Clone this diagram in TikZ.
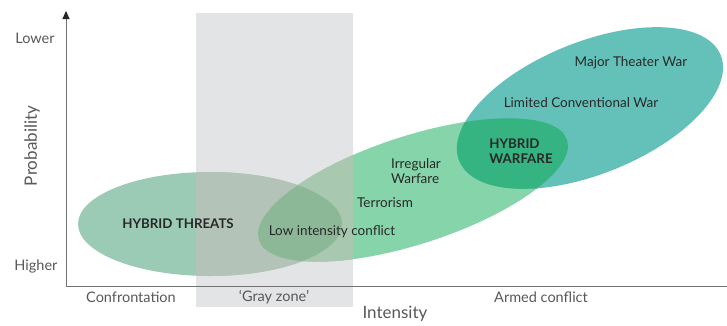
\documentclass[tikz,border=0pt]{standalone}
\usepackage{fontspec}
\setmainfont{Lato}
\usetikzlibrary{arrows.meta}

\definecolor{zonagris}{RGB}{227,228,230}
\definecolor{amenaza}{RGB}{156,203,181}
\definecolor{amenazagris}{RGB}{179,195,183}
\definecolor{irregular}{RGB}{134,212,170}
\definecolor{irregulargris}{RGB}{168,200,176}
\definecolor{cruce}{RGB}{140,184,152}
\definecolor{convencional}{RGB}{100,193,185}
\definecolor{hibrida}{RGB}{53,179,128}
\definecolor{textoeje}{RGB}{88,88,88}
\definecolor{textoblob}{RGB}{40,40,40}

% Elipses (como macros para poder rellenar y recortar)
\newcommand{\blobamenaza}[1]{\path[#1] (144,62) ellipse [x radius=132pt, y radius=52pt];}
\newcommand{\blobirregular}[1]{\path[#1, rotate around={18:(347,96)}] (347,96) ellipse [x radius=162pt, y radius=54pt];}
\newcommand{\blobconvencional}[1]{\path[#1, rotate around={22:(524,178)}] (524,178) ellipse [x radius=141pt, y radius=66pt];}

\begin{document}
\begin{tikzpicture}[x=1pt, y=1pt,
    etiqueje/.style={text=textoeje, font=\fontsize{14.5}{16}\selectfont},
    tituloeje/.style={text=textoeje, font=\fontsize{17}{19}\selectfont},
    etiqblob/.style={text=textoblob, font=\fontsize{13.5}{15}\selectfont},
    etiqfuerte/.style={text=textoblob, font=\fontsize{13.3}{15.5}\selectfont\bfseries},
    eje/.style={draw=black!55, line width=0.9pt}]

		\useasboundingbox (-66,-39) rectangle (661,286);

		% Zona gris
		\fill[zonagris] (130,-21) rectangle (287,273);

		% Elipses
		\blobamenaza{fill=amenaza}
		\blobirregular{fill=irregular}
		\blobconvencional{fill=convencional}

		% Cruces de elipses
		\begin{scope}
			\blobirregular{clip}
			\blobconvencional{fill=hibrida}
		\end{scope}

		% Parte de las elipses dentro de la zona gris
		\begin{scope}
			\clip (130,-21) rectangle (287,273);
			\blobamenaza{fill=amenazagris}
			\blobirregular{fill=irregulargris}
			\begin{scope}
				\blobamenaza{clip}
				\blobirregular{fill=cruce}
			\end{scope}
		\end{scope}

		% Ejes
		\coordinate (origen) at (0,0);
		\coordinate (arriba) at (0,275);
		\coordinate (derecha) at (661,0);
		\draw[eje, -{Triangle[length=8pt, width=7pt, color=black!85]}] (origen) -- (arriba);
		\draw[eje] (origen) -- (derecha);

		% Etiquetas de los ejes
		\node[etiqueje] (lower) at (-31,248) {Lower};
		\node[etiqueje] (higher) at (-30,20) {Higher};
		\node[tituloeje, rotate=90] (probabilidad) at (-34,140) {Probability};
		\node[etiqueje] (confrontacion) at (65,-11) {Confrontation};
		\node[etiqueje] (grayzone) at (208,-11) {‘Gray zone’};
		\node[etiqueje] (armado) at (475,-11) {Armed conflict};
		\node[tituloeje] (intensidad) at (329,-28) {Intensity};

		% Etiquetas de las elipses
		\node[etiqfuerte] (threats) at (112,62) {HYBRID THREATS};
		\node[etiqblob] (lowint) at (266,54) {Low intensity conflict};
		\node[etiqblob] (terror) at (319,83) {Terrorism};
		\node[etiqblob, align=left] (irreg) at (350,115) {Irregular\\Warfare};
		\node[etiqfuerte, align=left] (warfare) at (455,135) {HYBRID\\WARFARE};
		\node[etiqblob] (limited) at (515,183) {Limited Conventional War};
		\node[etiqblob] (major) at (565,223) {Major Theater War};

	\end{tikzpicture}
\end{document}
